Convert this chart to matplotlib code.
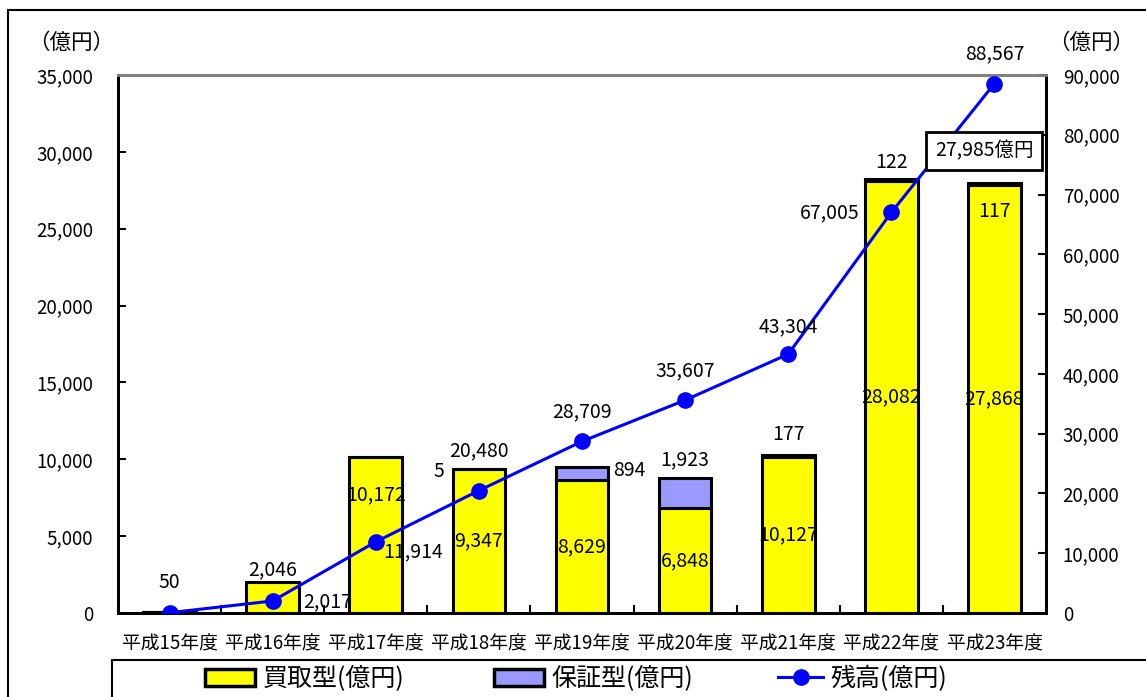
import matplotlib
matplotlib.use("Agg")
from matplotlib import pyplot as plt
from matplotlib.patches import Rectangle
from matplotlib.lines import Line2D

plt.rcParams['font.family'] = ['Noto Sans CJK JP', 'DejaVu Sans']

years = ["平成15年度", "平成16年度", "平成17年度", "平成18年度", "平成19年度",
         "平成20年度", "平成21年度", "平成22年度", "平成23年度"]
kaitori = [50, 2046, 10172, 9347, 8629, 6848, 10127, 28082, 27868]
hosho = [0, 0, 0, 5, 894, 1923, 177, 122, 117]
zandaka = [50, 2017, 11914, 20480, 28709, 35607, 43304, 67005, 88567]

left_ticks = list(range(0, 35001, 5000))
right_ticks = list(range(0, 90001, 10000))

W, H = 1146, 697
fig = plt.figure(figsize=(W / 100, H / 100), dpi=100)
ax = fig.add_axes([118 / W, 1 - 613 / H, 928 / W, 538 / H])
ax2 = ax.twinx()

x = list(range(len(years)))
yellow = "#FFFF00"
purple = "#9999FF"
blue = "#0000FF"

ax.bar(x, kaitori, width=0.51, color=yellow, edgecolor="black", linewidth=2.2, zorder=2)
ax.bar(x, hosho, width=0.51, bottom=kaitori, color=purple, edgecolor="black", linewidth=2.2, zorder=2)
ax2.plot(x, zandaka, color=blue, linewidth=2.2, marker="o", markersize=11, zorder=3)

ax.set_xlim(-0.5, len(years) - 0.5)
ax.set_ylim(0, 35000)
ax2.set_ylim(0, 90000)

fmt = lambda v: f"{v:,}"
ax.set_yticks(left_ticks)
ax.set_yticklabels([fmt(v) for v in left_ticks])
ax2.set_yticks(right_ticks)
ax2.set_yticklabels([fmt(v) for v in right_ticks])
ax.set_xticks(x)
ax.set_xticklabels(years, fontsize=13.5)
ax.set_xticks([i + 0.5 for i in x[:-1]], minor=True)

ax.tick_params(axis="x", which="major", length=0, pad=15)
ax.tick_params(axis="x", which="minor", direction="in", length=6, width=1.5)
ax.tick_params(axis="y", direction="in", length=6, width=1.5, labelsize=13.5, pad=18)
ax2.tick_params(axis="y", direction="in", length=6, width=1.5, labelsize=13.5, pad=12)

for a in (ax, ax2):
    for s in ("left", "right", "bottom"):
        a.spines[s].set_linewidth(2)
    a.spines["top"].set_color("#808080")
    a.spines["top"].set_linewidth(2)


# data labels, offsets in pixels; drawn on ax2 so they sit above the bars
def lab(trans, xi, yv, text, dx=0, dy=0):
    ax2.annotate(text, (xi, yv), xycoords=trans, xytext=(dx, dy), textcoords="offset pixels",
                 ha="center", va="center", fontsize=14, zorder=6)


tops = [k + h for k, h in zip(kaitori, hosho)]
bar_t = ax.transData
line_t = ax2.transData

# 買取型
lab(bar_t, 0, kaitori[0], fmt(kaitori[0]), 0, 30)
lab(bar_t, 1, kaitori[1], fmt(kaitori[1]), 0, 12)
lab(bar_t, 2, kaitori[2], fmt(kaitori[2]), 0, -38)
for i in range(3, 9):
    lab(bar_t, i, kaitori[i] / 2, fmt(kaitori[i]))

# 保証型
lab(bar_t, 3, tops[3], fmt(hosho[3]), -40, -2)
lab(bar_t, 4, tops[4], fmt(hosho[4]), 47, -4)
lab(bar_t, 5, tops[5], fmt(hosho[5]), 0, 18)
lab(bar_t, 6, tops[6], fmt(hosho[6]), 0, 20)
lab(bar_t, 7, tops[7], fmt(hosho[7]), 0, 17)
lab(bar_t, 8, tops[8], fmt(hosho[8]), 0, -29)

# 残高
lab(line_t, 1, zandaka[1], fmt(zandaka[1]), 55, -1)
lab(line_t, 2, zandaka[2], fmt(zandaka[2]), 37, -10)
for i, dy in zip(range(3, 7), (40, 30, 29, 27)):
    lab(line_t, i, zandaka[i], fmt(zandaka[i]), 0, dy)
lab(line_t, 7, zandaka[7], fmt(zandaka[7]), -62, 0)
lab(line_t, 8, zandaka[8], fmt(zandaka[8]), 0, 30)

# 平成23年度の合計
ax2.annotate(f"{tops[8]:,}億円", (8, tops[8]), xycoords=bar_t, xytext=(-10, 32),
             textcoords="offset pixels", ha="center", va="center", fontsize=14, zorder=10,
             bbox=dict(boxstyle="square,pad=0.45", fc="white", ec="black", lw=2))

fig.text(28 / W, 1 - 43 / H, "（億円）", fontsize=15.5, va="center", ha="left")
fig.text(1048 / W, 1 - 43 / H, "（億円）", fontsize=15.5, va="center", ha="left")

# outer frame and legend frame
fig.add_artist(Rectangle((8 / W, -0.1), 1.2, 1 - 10 / H + 0.1, transform=fig.transFigure,
                         fill=False, ec="black", lw=1.5))
fig.add_artist(Rectangle((112 / W, -0.1), 1.2, 1 - 660 / H + 0.1, transform=fig.transFigure,
                         fill=False, ec="black", lw=1.5))

# one legend per entry so each can sit at its own spot
entries = [
    (Rectangle((0, 0), 1, 1, fc=yellow, ec="black", lw=2.5), "買取型(億円)", 205, 2.0),
    (Rectangle((0, 0), 1, 1, fc=purple, ec="black", lw=2.5), "保証型(億円)", 494, 2.0),
    (Line2D([], [], color=blue, lw=2.2, marker="o", markersize=11), "残高(億円)", 778, 1.8),
]
for handle, text, left, hlen in entries:
    fig.legend([handle], [text], loc="center left", bbox_to_anchor=(left / W, 1 - 679 / H),
               frameon=False, fontsize=18, handlelength=hlen, handletextpad=0.3,
               borderpad=0, borderaxespad=0)

fig.savefig("out.png", dpi=100)
